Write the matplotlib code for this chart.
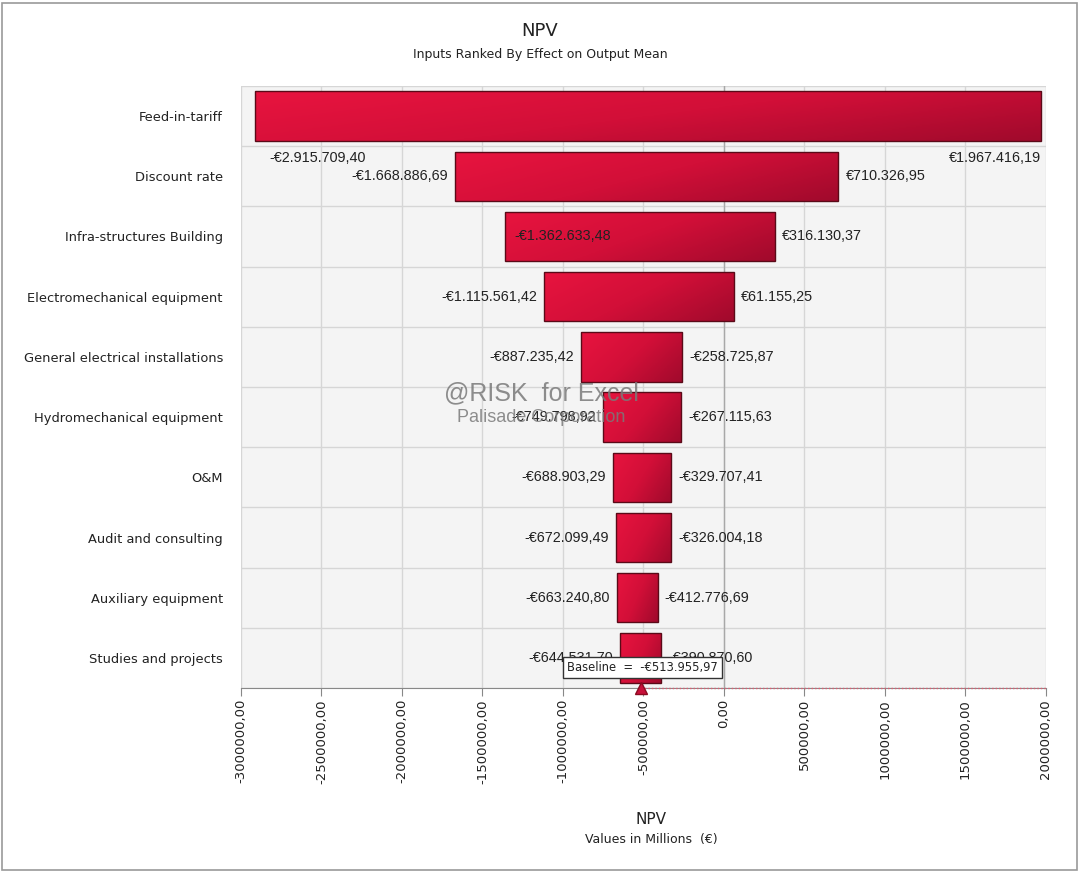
import numpy as np
import matplotlib.pyplot as plt
from matplotlib.colors import LinearSegmentedColormap
from matplotlib.patches import Rectangle

# inputs, ranked top to bottom
inputs = ["Feed-in-tariff", "Discount rate", "Infra-structures Building",
          "Electromechanical equipment", "General electrical installations",
          "Hydromechanical equipment", "O&M", "Audit and consulting",
          "Auxiliary equipment", "Studies and projects"]
low = [-2915709.40, -1668886.69, -1362633.48, -1115561.42, -887235.42,
       -749798.92, -688903.29, -672099.49, -663240.80, -644531.70]
high = [1967416.19, 710326.95, 316130.37, 61155.25, -258725.87,
        -267115.63, -329707.41, -326004.18, -412776.69, -390870.60]
baseline = -513955.97
xticks = [-3000000, -2500000, -2000000, -1500000, -1000000, -500000,
          0, 500000, 1000000, 1500000, 2000000]


def euro(v):
    s = f"{abs(v):,.2f}".replace(",", "X").replace(".", ",").replace("X", ".")
    return ("-" if v < 0 else "") + "€" + s


fig = plt.figure(figsize=(10.8, 8.73), dpi=100)
ax = fig.add_axes([0.2231, 0.2119, 0.7454, 0.6896])
ax.set_facecolor("#f4f4f4")

n = len(inputs)
y = np.arange(n)
ax.set_xlim(-3000000, 2000000)
ax.set_ylim(n - 0.5, -0.5)

for b in np.arange(n + 1) - 0.5:
    ax.axhline(b, color="#d6d6d6", lw=1, zorder=0)
for t in xticks:
    ax.axvline(t, color="#d6d6d6", lw=1, zorder=0)
ax.axvline(0, color="#a8a8a8", lw=1, zorder=1)

cmap = LinearSegmentedColormap.from_list("bar", ["#e8143f", "#d20f38", "#a00a2c"])
grad = np.linspace(0, 1, 256).reshape(1, -1)
grad = (grad + np.linspace(0, 0.5, 32).reshape(-1, 1)) / 1.5
h = 0.82
for i in range(n):
    rect = Rectangle((low[i], i - h / 2), high[i] - low[i], h,
                     facecolor="none", edgecolor="#5a0a18", lw=1, zorder=3)
    ax.add_patch(rect)
    im = ax.imshow(grad, cmap=cmap, aspect="auto", zorder=2,
                   extent=(low[i], high[i], i + h / 2, i - h / 2))
    im.set_clip_path(rect)

vf = dict(family="Liberation Sans", fontsize=10.4, color="#222222", zorder=5)
pad = 45000
for i in range(n):
    if i == 0:
        ax.text(low[i] + 90000, i + 0.7, euro(low[i]), ha="left", va="center", **vf)
        ax.text(high[i], i + 0.7, euro(high[i]), ha="right", va="center", **vf)
        continue
    if i == 2:
        ax.text(low[i] + 60000, i, euro(low[i]), ha="left", va="center", **vf)
    else:
        ax.text(low[i] - pad, i, euro(low[i]), ha="right", va="center", **vf)
    ax.text(high[i] + pad, i, euro(high[i]), ha="left", va="center", **vf)

# watermark
ax.text(-1136000, 4.6, "@RISK  for Excel", ha="center", va="center",
        family="Liberation Sans", fontsize=18, color="#7a7a7a", alpha=0.85, zorder=6)
ax.text(-1136000, 5.0, "Palisade Corporation", ha="center", va="center",
        family="Liberation Sans", fontsize=13, color="#7a7a7a", alpha=0.85, zorder=6)

# baseline marker
ax.plot([baseline, 2000000], [n - 0.5, n - 0.5], color="#e05a70", lw=1,
        ls=(0, (1, 1.5)), zorder=6, clip_on=False)
ax.plot([baseline], [n - 0.5], marker="^", color="#c8103a", ms=9,
        markeredgecolor="#8a0a20", zorder=7, clip_on=False)
ax.text(baseline + 10000, n - 0.84, "Baseline  =  " + euro(baseline),
        ha="center", va="center", family="DejaVu Sans", fontsize=8.3,
        color="#222222", zorder=8,
        bbox=dict(boxstyle="square,pad=0.35", fc="white", ec="#333333", lw=1))

ax.set_yticks(y)
ax.set_yticklabels(inputs, family="DejaVu Sans", fontsize=9.4, color="#222222")
ax.set_xticks(xticks)
ax.set_xticklabels([f"{t},00" for t in xticks], rotation=90,
                   family="DejaVu Sans", fontsize=9.5, color="#222222")
ax.tick_params(axis="y", length=0, pad=13)
ax.tick_params(axis="x", length=6, color="#888888", pad=2)
for s in ["top", "right", "left"]:
    ax.spines[s].set_visible(False)
ax.spines["bottom"].set_color("#888888")

fig.text(0.5, 0.965, "NPV", ha="center", va="center", family="DejaVu Sans",
         fontsize=13, color="#222222")
fig.text(0.5, 0.938, "Inputs Ranked By Effect on Output Mean", ha="center",
         va="center", family="DejaVu Sans", fontsize=9, color="#222222")
fig.text(0.603, 0.061, "NPV", ha="center", va="center", family="DejaVu Sans",
         fontsize=11, color="#222222")
fig.text(0.603, 0.038, "Values in Millions  (€)", ha="center", va="center",
         family="DejaVu Sans", fontsize=9, color="#222222")

fig.patches.append(Rectangle((0.002, 0.003), 0.995, 0.994, transform=fig.transFigure,
                             fill=False, ec="#9a9a9a", lw=1.2))

fig.savefig("out.png", dpi=100)
